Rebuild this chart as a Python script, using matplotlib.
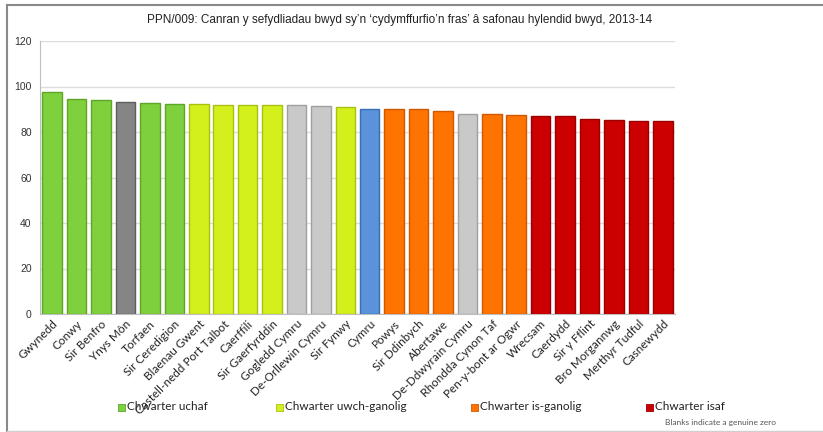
import matplotlib
matplotlib.use("Agg")
import matplotlib.pyplot as plt
from matplotlib.patches import Rectangle
from matplotlib.lines import Line2D

categories = ["Gwynedd", "Conwy", "Sir Benfro", "Ynys Môn", "Torfaen", "Sir Ceredigion",
              "Blaenau Gwent", "Castell-nedd Port Talbot", "Caerffili", "Sir Gaerfyrddin",
              "Gogledd Cymru", "De-Orllewin Cymru", "Sir Fynwy", "Cymru", "Powys",
              "Sir Ddinbych", "Abertawe", "De-Ddwyrain Cymru", "Rhondda Cynon Taf",
              "Pen-y-bont ar Ogwr", "Wrecsam", "Caerdydd", "Sir y Fflint", "Bro Morgannwg",
              "Merthyr Tudful", "Casnewydd"]
values = [97.4, 94.4, 94.0, 93.4, 92.6, 92.3, 92.3, 91.9, 91.9, 91.8, 91.8, 91.3, 91.0,
          90.3, 90.3, 90.0, 89.4, 88.1, 88.1, 87.6, 87.1, 87.1, 85.6, 85.3, 85.0, 85.0]
groups = ["q1", "q1", "q1", "wales_dark", "q1", "q1", "q2", "q2", "q2", "q2", "region",
          "region", "q2", "cymru", "q3", "q3", "q3", "region", "q3", "q3", "q4", "q4",
          "q4", "q4", "q4", "q4"]
legend_labels = ["Chwarter uchaf", "Chwarter uwch-ganolig", "Chwarter is-ganolig", "Chwarter isaf"]
title = "PPN/009: Canran y sefydliadau bwyd sy\u2019n \u2018cydymffurfio\u2019n fras\u2019 \u00e2 safonau hylendid bwyd, 2013-14"
note = "Blanks indicate a genuine zero"

colors = {"q1": "#7ed03c", "q2": "#d4f01c", "q3": "#ff7300", "q4": "#cc0000",
          "wales_dark": "#858585", "region": "#c9c9c9", "cymru": "#5a93dc"}
edges = {"q1": "#5ea52a", "q2": "#a8c010", "q3": "#d05800", "q4": "#990000",
         "wales_dark": "#5e5e5e", "region": "#a0a0a0", "cymru": "#3a6fb0"}

W, H = 823, 432
fig = plt.figure(figsize=(W / 100, H / 100), dpi=100)
ax = fig.add_axes([40 / W, 1 - 314 / H, (675 - 40) / W, (314 - 41) / H])

x = list(range(len(categories)))
ax.bar(x, values, width=0.8, color=[colors[g] for g in groups],
       edgecolor=[edges[g] for g in groups], linewidth=1.0, zorder=3)

ax.set_xlim(-0.5, len(categories) - 0.5)
ax.set_ylim(0, 120)
ax.set_yticks(range(0, 121, 20))
ax.grid(axis="y", color="#dcdcdc", linewidth=1.0, zorder=0)
ax.set_axisbelow(True)
for s in ["top", "right"]:
    ax.spines[s].set_visible(False)
ax.spines["left"].set_color("#bfbfbf")
ax.spines["bottom"].set_color("#bfbfbf")
ax.tick_params(axis="y", length=0, labelsize=7.5, labelcolor="#333333", pad=6)
ax.tick_params(axis="x", length=0, pad=3)
for lab in ax.get_yticklabels():
    lab.set_fontfamily("Liberation Sans")
ax.set_xticks(x)
ax.set_xticklabels(categories, rotation=45, ha="right", rotation_mode="anchor",
                   fontsize=8.5, fontfamily="Lato", color="#222222")

fig.text(400 / W, 1 - 20 / H, title, ha="center", va="center", fontsize=8.5,
         fontfamily="Liberation Sans", color="#222222")

leg_x = [122, 280, 475, 650]
leg_c = ["q1", "q2", "q3", "q4"]
for lx, g, lab in zip(leg_x, leg_c, legend_labels):
    fig.patches.append(Rectangle(((lx - 4) / W, 1 - 411 / H), 7 / W, 7 / H,
                                 transform=fig.transFigure, facecolor=colors[g],
                                 edgecolor=edges[g], linewidth=0.6))
    fig.text((lx + 5) / W, 1 - 407 / H, lab, ha="left", va="center", fontsize=8.5,
             fontfamily="Lato", color="#222222")
fig.text(665 / W, 1 - 423 / H, note, ha="left", va="center", fontsize=6,
         fontfamily="Lato", color="#555555")

# outer frame
fig.lines.append(Line2D([7 / W, 1], [1 - 5 / H, 1 - 5 / H], transform=fig.transFigure,
                        color="#8a8a8a", linewidth=1.5))
fig.lines.append(Line2D([7 / W, 7 / W], [1 - 5 / H, 1 - 431 / H], transform=fig.transFigure,
                        color="#8a8a8a", linewidth=1.5))
fig.lines.append(Line2D([7 / W, 1], [1 - 431 / H, 1 - 431 / H], transform=fig.transFigure,
                        color="#d0d0d0", linewidth=1.0))

fig.savefig("out.png", dpi=100)
